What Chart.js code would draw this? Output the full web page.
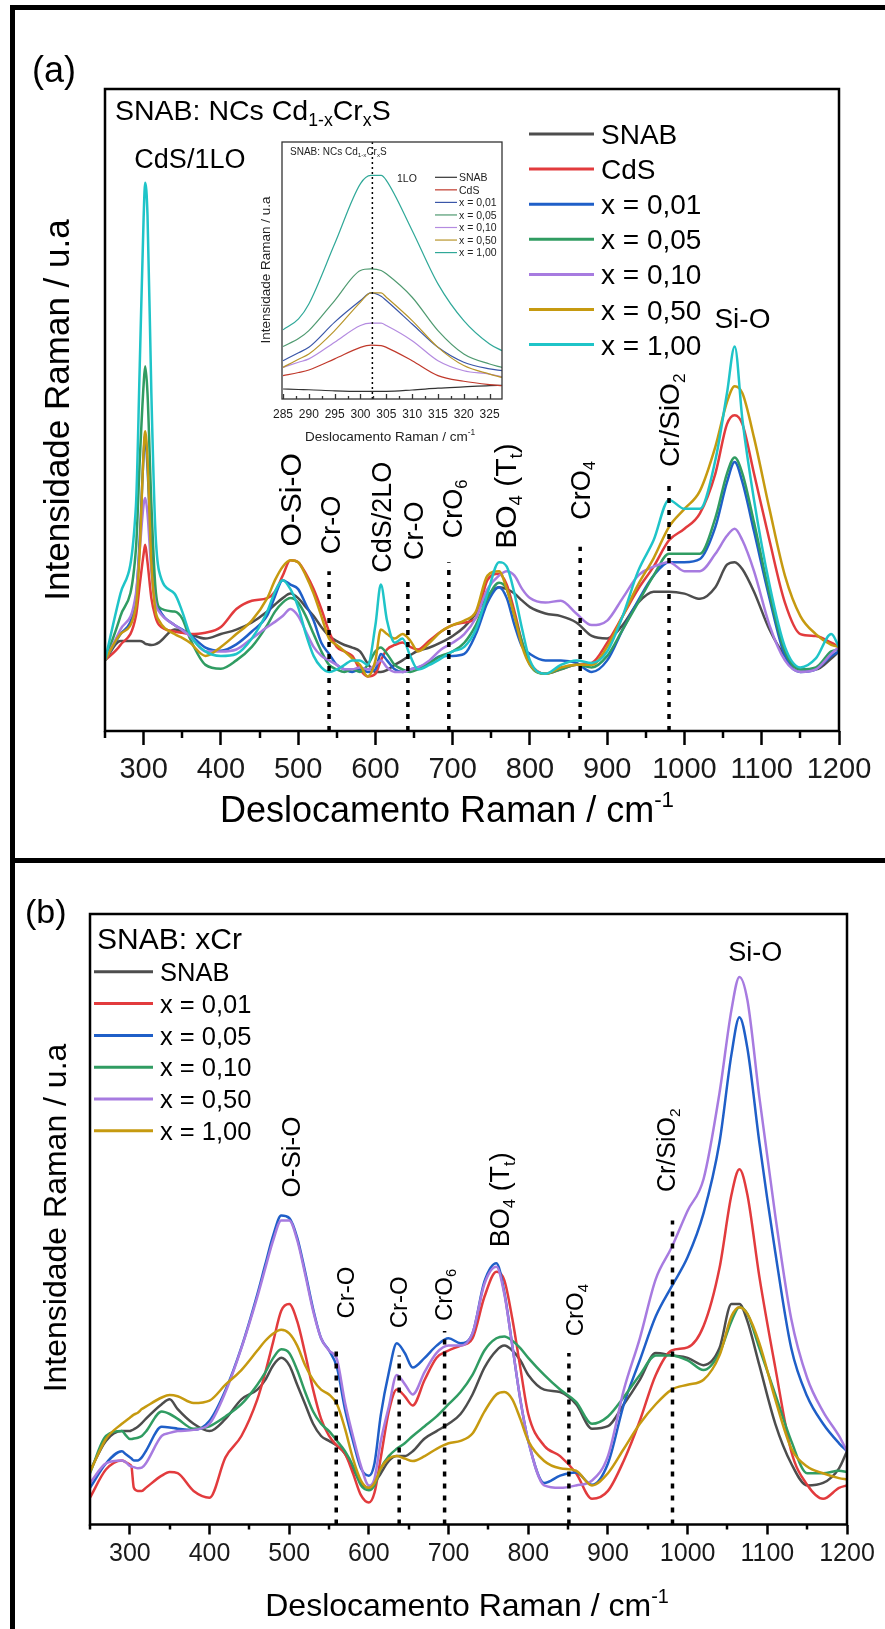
<!DOCTYPE html>
<html>
<head>
<meta charset="utf-8">
<script src="https://cdn.jsdelivr.net/npm/chart.js@4.4.1/dist/chart.umd.min.js"></script>
<style>
html,body{margin:0;padding:0;background:#fff;}
#page{position:relative;width:885px;height:1629px;overflow:hidden;background:#fff;}
canvas{position:absolute;}
.bar{position:absolute;background:#000;}
</style>
</head>
<body>
<div id="page">
<canvas id="cA" width="885" height="858" style="left:0;top:0;width:885px;height:858px"></canvas>
<canvas id="cB" width="885" height="769" style="left:0;top:860px;width:885px;height:769px"></canvas>
<canvas id="cI" width="270" height="320" style="left:250px;top:130px;width:270px;height:320px"></canvas>
<div class="bar" style="left:10px;top:5px;width:4.5px;height:1624px"></div>
<div class="bar" style="left:10px;top:5px;width:875px;height:4.5px"></div>
<div class="bar" style="left:10px;top:858px;width:875px;height:5px"></div>
</div>
<script>
// ---------------- DATA ----------------
const shiftGrid = [
 250,270,290,295,300,302,305,310,315,320,
 340,350,360,380,400,420,440,460,470,480,
 490,500,510,520,530,540,550,560,570,580,
 590,600,607,615,625,635,645,655,670,685,
 700,715,730,745,760,770,780,790,800,820,
 840,860,880,900,920,940,960,980,1000,1020,
 1040,1055,1065,1075,1090,1110,1130,1150,1170,1190,
 1200];

// Panel (a): SNAB: NCs Cd1-xCrxS
const aSNAB = [
 11,14,14,14,13.8,13.6,13.5,13.4,13.5,13.8,
 15.8,15.5,15.1,14.4,15.1,15.8,16.9,18.6,19.7,20.7,
 21.4,20.7,19.3,17.9,16.2,14.8,14,13.4,13,12.4,
 10.5,9.2,9.2,9.5,10.3,11,11.8,12.5,13,13.8,
 14.8,16.2,18.3,21,22.4,22.1,21.4,20.3,19.3,18.3,
 17.9,16.9,14.8,14.4,16.5,20,21.7,21.7,21.4,20.6,
 22.4,25.9,26.3,25.2,21.7,15.8,11.7,9.6,9.6,11.3,
 12.4];
const aCdS = [
 11,13.4,17.9,22.8,27.6,29,26.3,20.7,17.9,16.5,
 15.5,15.3,15.1,15.3,16.2,19,20.3,20.7,21.7,24.2,
 26.6,26.3,24.5,22.1,19,15.5,13.1,12.4,11.7,9.6,
 8.5,8.9,11,12.7,13.4,13.8,13.1,12.7,14.1,15.5,
 16.5,16.9,17.6,23.5,24.5,22.8,18.6,13.75,10.6,8.9,
 9.6,10.3,10.6,13.75,17.9,22.1,25.6,29.7,31.5,33.9,
 40.1,47.8,49.2,47.8,40.1,29.7,20,15.1,14.8,13.75,
 13.1];
const aX001 = [
 11,15.1,20.7,30,43,46,41,28,21,19,
 16.5,15.8,15,13,12.5,13.5,15.5,18,21,23.5,
 22.8,22.1,19.7,17.2,13.75,12,10.3,9.6,9.2,9.6,
 9.2,9.6,12,11,9.6,9.2,9.6,9.9,10.6,11.7,
 11.7,12,15.1,20,22.4,20.7,16.5,13.1,12,11,
 11,10.6,9.2,11,15.8,20.3,24.2,26.3,26.3,26.8,
 31.8,38.75,41.9,38.75,31.1,20.7,11.7,9.2,9.6,11.7,
 12.4];
const aX005 = [
 11,17.9,28.3,42.2,54,56.8,52.6,35.3,22.8,19.3,
 18.6,17.5,14.4,10.3,9.7,11,13.1,16.5,18.6,20,
 20.7,20,17.9,15.1,12.4,10.3,9.6,9.2,9.6,9.2,
 10.3,12.4,13,12,10.3,9.6,9.2,9.6,10.6,11.7,
 12.4,13.75,16.5,20.7,23.1,22.1,17.9,13.75,10.3,8.9,
 9.6,10.3,9.9,11.7,15.8,20,24.2,27.6,27.6,27.6,
 33.2,40.1,42.6,40.1,32.5,21.4,12.4,9.6,9.9,12.4,
 12.7];
const aX010 = [
 11,15.8,21.4,28.3,35.3,36.3,33.9,24.9,20,18.6,
 16.5,15.7,14.8,12.4,12.4,12.7,14.4,16.2,17,17.9,
 19,17.9,15.5,13.1,11.7,11,10.3,9.6,9.6,9.9,
 9.6,10.3,11,9.9,9.2,9.2,9.6,9.9,11,12.7,
 13.75,15.1,17.6,22.1,24.2,24.9,24.2,22.1,20.7,20,
 20.3,18.3,16.5,17.2,20.7,24.2,25.6,26.3,24.9,24.9,
 27.6,30.4,31.5,29.7,24.9,16.5,11,9.2,9.6,12,
 13.1];
const aX050 = [
 11,15.1,19.3,28.3,43.6,46.7,42.2,26.3,19,17.2,
 15.1,14.5,13.75,11.7,13.1,15.1,17.2,20.7,23.5,25.6,
 26.6,26.3,24.2,21.4,17.9,14.4,13.4,12.4,11.3,10.3,
 8.5,11,15.8,15.1,14.4,15.1,14.1,12.4,13.75,15.5,
 16.5,17.2,18.6,24.2,24.9,22.1,17.9,13.1,10.3,8.9,
 9.9,10.3,10.3,13.1,17.9,22.8,26.9,31.8,34.6,37.4,
 44.3,51.25,53.7,52.6,45.7,34.6,24.2,17.9,15.1,13.4,
 13.1];
const aX100 = [
 11,21.4,35,57,80,85.4,80.4,52.6,31.8,24.9,
 21.4,18.6,15.1,12.4,11.7,12,14.4,18.6,21.7,23.5,
 22.1,19.3,15.1,11.7,9.9,9.2,9.6,10.3,11,11,
 10.3,16.5,22.8,17.2,13.75,14.4,11.7,9.6,10.3,11.3,
 12.4,13.1,15.8,21.4,26.3,25.6,21.4,15.8,11,8.9,
 10.3,11,10.6,12.4,17.9,24.9,29.7,36,34.6,34.6,
 42.2,52.6,59.9,48.5,36,22.8,13.1,9.9,11.3,15.1,
 13.1];

// Panel (b): SNAB: xCr
const bSNAB = [
 8.8,13.7,15.3,15.3,15.3,15.4,15.6,16,16.6,17.3,
 19.7,20.5,18.9,16.5,15.3,17.3,20.5,22.1,23.7,26.1,
 27.3,26.1,22.9,19.7,16.5,14.5,13.7,12.9,11.6,9.2,
 6.8,6.0,6.8,8.4,10.4,11.2,11.2,12.0,14.1,15.3,
 16.5,18.1,21.3,25.7,28.5,29.3,28.5,26.9,24.5,22.1,
 21.7,19.7,15.7,16.1,19.7,23.7,28.1,27.7,27.3,26.1,
 28.9,36.1,36.1,33.3,26.1,16.5,10,6.4,6.8,9.2,
 12.0];
const bX001 = [
 4.4,9,10.5,10.2,9.8,9.5,6,5.5,5.5,6,
 8,8.6,8.4,5.5,4.4,11,14.5,20.5,24.9,30,
 35,36.1,33.3,28,22.1,17.3,14.5,12.9,11.6,8.4,
 4.8,3.6,5.2,11,18.5,22.1,21,19.5,23.7,27.3,
 28.5,29.3,30.5,37.3,41.4,40,33.7,25.7,18.1,12.9,
 11.2,8.4,4.2,5.5,10.5,17,24.5,28.5,29,32.5,
 42,54,58.2,54,40.6,25.7,12,6.5,4.2,6,
 6.4];
const bX005 = [
 6,10,12,11.5,11,10.8,10.5,10.5,11,12,
 16,15.9,15.7,15.5,17,22,29,37.7,42.6,47.4,
 50.6,50.2,47,41.4,35.3,30.5,28.5,25.7,18.9,13.7,
 9.2,8,10,18,24.9,29.7,28.1,25.7,27.3,29.3,
 30.5,29.7,31.3,39.8,42.8,38,29.3,20.5,13.7,6.8,
 8,8.5,6.5,10,19.7,26.9,34.1,39,43.8,51,
 62.6,77,83.1,78,62.6,44.6,28.9,21,16.5,13.3,
 12];
const bX010 = [
 8.4,14.5,15.3,14.6,14,14,14.1,14.2,14.5,15.2,
 18.5,18.1,17.3,15.7,16.1,17.7,19.7,22.9,24.9,27.3,
 28.7,28.1,25.3,21.7,18.5,16.5,15.3,13.7,12,9.6,
 6.4,5.6,6.4,9.2,11.2,12.4,13.3,14.5,16.1,17.7,
 19.7,21.7,24.5,28.5,30.5,30.8,30.1,28.9,27.3,24.5,
 22.1,20.1,16.5,17.7,20.9,24.5,27.7,27.7,26.9,25.3,
 28.1,33.3,35.6,34.5,28.9,21.3,13.7,8.4,8.4,8.8,
 8.6];
const bX050 = [
 6.8,10,10.5,10.2,9.6,9.5,9.4,9.2,9.3,10,
 14.5,15,15.3,15.5,16.5,21.7,28.9,37.3,42,46.6,
 49.8,49.8,46.6,41,35,30.5,28.5,27,20,14.5,
 9.6,6.4,7.5,13.7,19.3,24.5,23,21.3,25,28.1,
 29.3,29.3,31.3,39.4,42.2,37.7,29.3,20.5,13.7,6.4,
 6,6.4,7.2,11.2,22.1,30.5,40.2,45.4,51.4,56.6,
 70.7,84.3,89.7,85.9,70,50.6,33.7,24,18.5,14.5,
 12];
const bX100 = [
 8.6,14,16.5,17,17.5,17.7,18,18.3,18.9,19.3,
 20.8,21.2,21.0,19.9,20.3,22.9,25.3,28.5,30.1,31.3,
 31.9,31.3,29.3,26.1,23.7,22.1,21.3,19.7,15.7,10.8,
 7.2,6,6.8,9.2,10.8,11.2,10.8,10.4,11.2,12.4,
 13.3,13.7,14.9,18.5,21.3,21.7,20.5,17.3,13.7,10.4,
 9.2,8.8,6.4,8.4,12.4,16.5,19.7,22.1,22.9,23.7,
 27.7,34.1,35.6,34.5,29.7,20.5,12.5,9.5,8.4,7.6,
 7.4];

// Inset (1LO region)
const insetShift = [285,288,290,295,300,302,304,305,310,315,320,325,327.4];
const iSNAB = [3.9,3.7,3.6,3.2,3.0,3.0,3.0,3.0,3.5,4.2,4.7,5.2,5.3];
const iCdS  = [9.1,10.3,11.3,15.6,20.1,21.0,20.8,20.1,14.9,9.1,6.9,5.6,5.2];
const iX001 = [14.9,18,20.1,29.9,38.3,41.3,40,38.3,29.2,20.1,14.3,11.7,11.0];
const iX005 = [20.4,23.5,26.6,38.3,50,50.6,50,48.7,39.6,26.6,17.5,13.6,12.3];
const iX010 = [12.3,14.3,15.6,22.1,28.6,29.5,29.5,28.6,22.7,14.9,11.0,9.7,8.7];
const iX050 = [12.3,15.5,17.5,26.6,37.7,41.3,41.3,39.6,30.5,20.1,13.0,9.7,8.4];
const iX100 = [26.9,31.2,37.0,60.4,83.8,87.0,87.0,85.1,65.6,44.8,30.5,21.4,18.8];

const mainTicks  = [300,400,500,600,700,800,900,1000,1100,1200];
const mainMinor  = [250,350,450,550,650,750,850,950,1050,1150];
const insetTicks = [285,290,295,300,305,310,315,320,325];
const insetMinor = [287.5,292.5,297.5,302.5,307.5,312.5,317.5,322.5];

const namesA = ['SNAB','CdS','x = 0,01','x = 0,05','x = 0,10','x = 0,50','x = 1,00'];
const namesB = ['SNAB','x = 0,01','x = 0,05','x = 0,10','x = 0,50','x = 1,00'];

// dotted marker lines (position, top of dotted line)
const markersA = [540, 642, 695, 865, 980];
const markerTopsA = [24.9, 23.5, 26.3, 28.7, 38.75];
const markersB = [559, 638, 695, 851, 981];
const markerTopsB = [29.3, 27.7, 31.7, 28.1, 49.8];
const insetMarker = 302.3;

// ---------------- STYLE ----------------
const C = {gray:'#4d4d4d', red:'#e23b3d', blue:'#1f5fc8', green:'#309c62', purple:'#a77be0', gold:'#c69a10', teal:'#1fc4c8'};
const colorsA = [C.gray, C.red, C.blue, C.green, C.purple, C.gold, C.teal];
const colorsB = [C.gray, C.red, C.blue, C.green, C.purple, C.gold];
const colorsI = ['#333333','#c0392b','#3a56a8','#4f9a70','#b48be0','#b8952a','#2fa898'];
const FONT = '"Liberation Sans", Arial, Helvetica, sans-serif';
const fnt = px => px + 'px ' + FONT;

function rich(ctx, segs, x, y, size, opts) {
  opts = opts || {};
  const rot = opts.rot || 0, align = opts.align || 'center';
  ctx.save();
  ctx.translate(x, y); ctx.rotate(rot);
  ctx.fillStyle = opts.color || '#000';
  ctx.textBaseline = 'alphabetic'; ctx.textAlign = 'left';
  const parts = segs.map(s => typeof s === 'string' ? [s, 0] : s);
  const ws = parts.map(([t, m]) => { ctx.font = fnt(m ? size * 0.62 : size); return ctx.measureText(t).width; });
  const total = ws.reduce((a, b) => a + b, 0);
  let cx = align === 'left' ? 0 : align === 'right' ? -total : -total / 2;
  const base = size * 0.358;
  parts.forEach(([t, m], i) => {
    ctx.font = fnt(m ? size * 0.62 : size);
    const dy = m === 1 ? size * 0.2 : m === 2 ? -size * 0.42 : 0;
    ctx.fillText(t, cx, base + dy);
    cx += ws[i];
  });
  ctx.restore();
}

const pts = (xs, ys) => xs.map((x, i) => ({x: x, y: ys[i]}));
function seriesDs(label, xs, ys, color, w, order) {
  return {label, data: pts(xs, ys), borderColor: color, backgroundColor: color, borderWidth: w,
    pointRadius: 0, fill: false, cubicInterpolationMode: 'monotone', order};
}
function markerDs(x, top, w, dash) {
  return {label: '', data: [{x: x, y: 0}, {x: x, y: top}], borderColor: '#000', borderWidth: w,
    borderDash: dash, borderCapStyle: 'butt', pointRadius: 0, fill: false, order: 0};
}
function xAxis(min, max, ticks, fontPx, tickLen, pad, height, showGrid) {
  return {
    type: 'linear', min, max,
    afterBuildTicks: s => { s.ticks = ticks.map(v => ({value: v})); },
    afterFit: s => { s.height = height; },
    grid: {display: showGrid, drawOnChartArea: false, drawTicks: true, tickLength: tickLen, tickWidth: 2.5, tickColor: '#000', color: '#000'},
    border: {display: false},
    ticks: {font: {size: fontPx, family: FONT}, color: '#1a1a1a', padding: pad, maxRotation: 0, autoSkip: false, callback: v => String(v)},
    title: {display: false}
  };
}
function yAxis(width) {
  return {type: 'linear', min: 0, max: 100, afterFit: s => { s.width = width; },
    ticks: {display: false}, grid: {display: false}, border: {display: false}, title: {display: false}};
}

// ---------------- PANEL (a) ----------------
const seriesA = [aSNAB, aCdS, aX001, aX005, aX010, aX050, aX100];
const dsA = seriesA.map((s, i) => seriesDs(namesA[i], shiftGrid, s, colorsA[i], 2.5, seriesA.length - i));
markersA.forEach((m, i) => dsA.push(markerDs(m, markerTopsA[i], 3.5, [5, 7])));

const labelsA = [
  {segs: ['O-Si-O'], x: 490, y: 36.0, size: 30},
  {segs: ['Cr-O'], x: 542, y: 32.1, size: 27},
  {segs: ['CdS/2LO'], x: 608, y: 33.3, size: 27},
  {segs: ['Cr-O'], x: 649.5, y: 31.2, size: 27},
  {segs: ['CrO', ['6', 1]], x: 699, y: 34.6, size: 27},
  {segs: ['BO', ['4', 1], ' (T', ['t', 1], ')'], x: 768, y: 36.6, size: 30},
  {segs: ['CrO', ['4', 1]], x: 865, y: 37.5, size: 27},
  {segs: ['Cr/SiO', ['2', 1]], x: 980, y: 48.4, size: 28}
];

const pluginA = {
  id: 'panelA',
  afterDatasetsDraw(chart) {
    const {ctx, chartArea: a, scales: {x, y}} = chart;
    ctx.save();
    ctx.strokeStyle = '#000'; ctx.lineWidth = 2.5;
    ctx.strokeRect(a.left, a.top, a.right - a.left, a.bottom - a.top);
    ctx.lineWidth = 2.5;
    mainMinor.forEach(v => { const p = Math.round(x.getPixelForValue(v)); ctx.beginPath(); ctx.moveTo(p, a.bottom); ctx.lineTo(p, a.bottom + 7); ctx.stroke(); });
    ctx.restore();
    labelsA.forEach(l => rich(ctx, l.segs, x.getPixelForValue(l.x), y.getPixelForValue(l.y), l.size, {rot: -Math.PI / 2}));
    rich(ctx, ['Si-O'], x.getPixelForValue(1075), y.getPixelForValue(64.4), 28);
    rich(ctx, ['CdS/1LO'], x.getPixelForValue(288), y.getPixelForValue(89.2), 27, {align: 'left'});
    rich(ctx, ['SNAB: NCs Cd', ['1-x', 1], 'Cr', ['x', 1], 'S'], 115, 110, 28.5, {align: 'left'});
    // legend
    namesA.forEach((n, i) => {
      const yy = 134 + i * 35.1;
      ctx.save(); ctx.strokeStyle = colorsA[i]; ctx.lineWidth = 3;
      ctx.beginPath(); ctx.moveTo(529, yy); ctx.lineTo(594, yy); ctx.stroke(); ctx.restore();
      rich(ctx, [n], 601, yy, 28, {align: 'left'});
    });
    rich(ctx, ['(a)'], 32, 69, 36, {align: 'left'});
    rich(ctx, ['Intensidade Raman / u.a'], 56, 410, 35, {rot: -Math.PI / 2});
    rich(ctx, ['Deslocamento Raman / cm', ['-1', 2]], 447, 809, 36);
  }
};

new Chart(document.getElementById('cA'), {
  type: 'line',
  data: {datasets: dsA},
  options: {
    responsive: false, animation: false, devicePixelRatio: 1,
    layout: {padding: {left: 0, top: 89, right: 46, bottom: 27}},
    scales: {x: xAxis(250, 1200, mainTicks, 29, 14, 8, 100, true), y: yAxis(105)},
    plugins: {legend: {display: false}, tooltip: {enabled: false}}
  },
  plugins: [pluginA]
});

// ---------------- INSET ----------------
const seriesI = [iSNAB, iCdS, iX001, iX005, iX010, iX050, iX100];
const dsI = seriesI.map((s, i) => seriesDs(namesA[i], insetShift, s, colorsI[i], 1.2, seriesI.length - i));
dsI.push(markerDs(insetMarker, 100, 1.5, [2, 3]));

const pluginI = {
  id: 'inset',
  afterDatasetsDraw(chart) {
    const {ctx, chartArea: a, scales: {x}} = chart;
    ctx.save();
    ctx.strokeStyle = '#333'; ctx.lineWidth = 1.3;
    ctx.strokeRect(a.left, a.top, a.right - a.left, a.bottom - a.top);
    insetTicks.forEach(v => { const p = Math.round(x.getPixelForValue(v)) + 0.5; ctx.beginPath(); ctx.moveTo(p, a.bottom); ctx.lineTo(p, a.bottom - 5); ctx.stroke(); });
    insetMinor.forEach(v => { const p = Math.round(x.getPixelForValue(v)) + 0.5; ctx.beginPath(); ctx.moveTo(p, a.bottom); ctx.lineTo(p, a.bottom - 3); ctx.stroke(); });
    ctx.restore();
    rich(ctx, ['SNAB: NCs Cd', ['1-x', 1], 'Cr', ['x', 1], 'S'], 40, 21, 10, {align: 'left', color: '#222'});
    rich(ctx, ['1LO'], 147, 48, 10.5, {align: 'left', color: '#222'});
    namesA.forEach((n, i) => {
      const yy = 47.3 + i * 12.55;
      ctx.save(); ctx.strokeStyle = colorsI[i]; ctx.lineWidth = 1.2;
      ctx.beginPath(); ctx.moveTo(185, yy); ctx.lineTo(207, yy); ctx.stroke(); ctx.restore();
      rich(ctx, [n], 209, yy, 10.5, {align: 'left', color: '#222'});
    });
    rich(ctx, ['Intensidade Raman / u.a'], 15, 140, 13.5, {rot: -Math.PI / 2, color: '#222'});
    rich(ctx, ['Deslocamento Raman / cm', ['-1', 2]], 140, 306, 13.5, {color: '#222'});
  }
};

new Chart(document.getElementById('cI'), {
  type: 'line',
  data: {datasets: dsI},
  options: {
    responsive: false, animation: false, devicePixelRatio: 1,
    layout: {padding: {left: 0, top: 12, right: 18, bottom: 11}},
    scales: {x: xAxis(284.8, 327.4, insetTicks, 12, 0, 8, 40, false), y: yAxis(32)},
    plugins: {legend: {display: false}, tooltip: {enabled: false}}
  },
  plugins: [pluginI]
});

// ---------------- PANEL (b) ----------------
const seriesB = [bSNAB, bX001, bX005, bX010, bX050, bX100];
const dsB = seriesB.map((s, i) => seriesDs(namesB[i], shiftGrid, s, colorsB[i], 2.5, seriesB.length - i));
markersB.forEach((m, i) => dsB.push(markerDs(m, markerTopsB[i], 3.5, [5, 7])));

const labelsB = [
  {segs: ['O-Si-O'], x: 501.5, y: 60.2, size: 26},
  {segs: ['Cr-O'], x: 570.4, y: 38.0, size: 24},
  {segs: ['Cr-O'], x: 637, y: 36.4, size: 24},
  {segs: ['CrO', ['6', 1]], x: 693, y: 37.6, size: 24},
  {segs: ['BO', ['4', 1], ' (T', ['t', 1], ')'], x: 764, y: 53.2, size: 27},
  {segs: ['CrO', ['4', 1]], x: 857.7, y: 35.1, size: 24},
  {segs: ['Cr/SiO', ['2', 1]], x: 973.4, y: 61.3, size: 25}
];
const OFFB = 860;
const pluginB = {
  id: 'panelB',
  afterDatasetsDraw(chart) {
    const {ctx, chartArea: a, scales: {x, y}} = chart;
    ctx.save();
    ctx.strokeStyle = '#000'; ctx.lineWidth = 2.5;
    ctx.strokeRect(a.left, a.top, a.right - a.left, a.bottom - a.top);
    ctx.lineWidth = 2.5;
    mainMinor.forEach(v => { const p = Math.round(x.getPixelForValue(v)); ctx.beginPath(); ctx.moveTo(p, a.bottom); ctx.lineTo(p, a.bottom + 5); ctx.stroke(); });
    ctx.restore();
    labelsB.forEach(l => rich(ctx, l.segs, x.getPixelForValue(l.x), y.getPixelForValue(l.y), l.size, {rot: -Math.PI / 2}));
    rich(ctx, ['Si-O'], x.getPixelForValue(1085), y.getPixelForValue(93.9), 27);
    rich(ctx, ['SNAB: xCr'], 97, 938.5 - OFFB, 30, {align: 'left'});
    namesB.forEach((n, i) => {
      const yy = 971.8 + i * 31.8 - OFFB;
      ctx.save(); ctx.strokeStyle = colorsB[i]; ctx.lineWidth = 3;
      ctx.beginPath(); ctx.moveTo(94, yy); ctx.lineTo(153, yy); ctx.stroke(); ctx.restore();
      rich(ctx, [n], 160, yy, 25.5, {align: 'left'});
    });
    rich(ctx, ['(b)'], 25, 911 - OFFB, 34, {align: 'left'});
    rich(ctx, ['Intensidade Raman / u.a'], 55, 1218 - OFFB, 32, {rot: -Math.PI / 2});
    rich(ctx, ['Deslocamento Raman / cm', ['-1', 2]], 467, 1605 - OFFB, 32);
  }
};

new Chart(document.getElementById('cB'), {
  type: 'line',
  data: {datasets: dsB},
  options: {
    responsive: false, animation: false, devicePixelRatio: 1,
    layout: {padding: {left: 0, top: 54, right: 38, bottom: 4.5}},
    scales: {x: xAxis(250, 1200, mainTicks, 25, 10, 5, 100, true), y: yAxis(90)},
    plugins: {legend: {display: false}, tooltip: {enabled: false}}
  },
  plugins: [pluginB]
});
</script>
</body>
</html>
